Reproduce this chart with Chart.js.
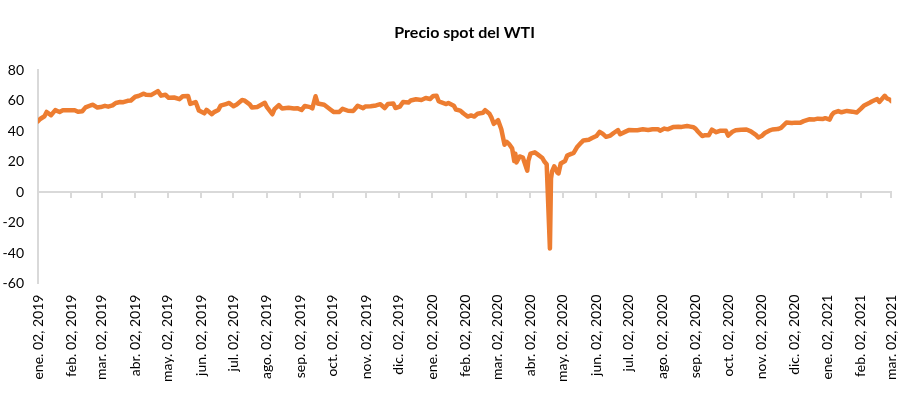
<!DOCTYPE html>
<html>
<head>
<meta charset="utf-8">
<script src="https://cdn.jsdelivr.net/npm/chart.js@4"></script>
<style>
  html, body { margin: 0; padding: 0; background: #ffffff; }
  #wrap { width: 919px; height: 395px; position: relative; }
</style>
</head>
<body>
<div id="wrap"><canvas id="c" width="919" height="395"></canvas></div>
<script>
// ---- Data (WTI spot price, USD/bbl) ----
const dates = [
  "2019-01-02","2019-01-04","2019-01-08","2019-01-10","2019-01-14","2019-01-18","2019-01-22","2019-01-25","2019-01-31",
  "2019-02-05","2019-02-08","2019-02-12","2019-02-15","2019-02-20","2019-02-22","2019-02-26","2019-03-01",
  "2019-03-05","2019-03-08","2019-03-12","2019-03-15","2019-03-19","2019-03-22","2019-03-26","2019-03-29",
  "2019-04-02","2019-04-05","2019-04-10","2019-04-12","2019-04-17","2019-04-23","2019-04-26","2019-04-30",
  "2019-05-03","2019-05-08","2019-05-13","2019-05-16","2019-05-21","2019-05-23","2019-05-28","2019-05-31",
  "2019-06-05","2019-06-07","2019-06-12","2019-06-14","2019-06-18","2019-06-20","2019-06-25","2019-06-28",
  "2019-07-02","2019-07-05","2019-07-10","2019-07-12","2019-07-17","2019-07-19","2019-07-24","2019-07-31",
  "2019-08-02","2019-08-07","2019-08-09","2019-08-13","2019-08-16","2019-08-22","2019-08-27","2019-08-30",
  "2019-09-03","2019-09-06","2019-09-11","2019-09-13","2019-09-16","2019-09-18","2019-09-24","2019-09-30",
  "2019-10-03","2019-10-08","2019-10-11","2019-10-16","2019-10-21","2019-10-25","2019-10-30",
  "2019-11-01","2019-11-06","2019-11-11","2019-11-15","2019-11-19","2019-11-22","2019-11-27","2019-11-29",
  "2019-12-03","2019-12-06","2019-12-11","2019-12-13","2019-12-18","2019-12-23","2019-12-27","2019-12-31",
  "2020-01-03","2020-01-06","2020-01-08","2020-01-10","2020-01-15","2020-01-17","2020-01-22","2020-01-24","2020-01-28","2020-01-31",
  "2020-02-04","2020-02-07","2020-02-10","2020-02-13","2020-02-18","2020-02-20","2020-02-24","2020-02-26","2020-02-28",
  "2020-03-03","2020-03-06","2020-03-09","2020-03-11","2020-03-13","2020-03-16","2020-03-18","2020-03-19","2020-03-20","2020-03-23","2020-03-26","2020-03-30","2020-03-31",
  "2020-04-02","2020-04-06","2020-04-08","2020-04-13","2020-04-15","2020-04-17","2020-04-20","2020-04-21","2020-04-22","2020-04-24","2020-04-27","2020-04-28","2020-04-30",
  "2020-05-04","2020-05-06","2020-05-08","2020-05-12","2020-05-15","2020-05-19","2020-05-21","2020-05-26","2020-05-29",
  "2020-06-02","2020-06-05","2020-06-08","2020-06-11","2020-06-15","2020-06-18","2020-06-22","2020-06-24","2020-06-29",
  "2020-07-02","2020-07-07","2020-07-10","2020-07-15","2020-07-20","2020-07-24","2020-07-29","2020-07-31",
  "2020-08-04","2020-08-07","2020-08-12","2020-08-17","2020-08-20","2020-08-25","2020-08-28","2020-08-31",
  "2020-09-02","2020-09-04","2020-09-08","2020-09-10","2020-09-14","2020-09-17","2020-09-21","2020-09-25","2020-09-30",
  "2020-10-02","2020-10-06","2020-10-09","2020-10-14","2020-10-19","2020-10-23","2020-10-28","2020-10-30",
  "2020-11-02","2020-11-05","2020-11-09","2020-11-12","2020-11-17","2020-11-20","2020-11-25","2020-11-30",
  "2020-12-03","2020-12-08","2020-12-11","2020-12-16","2020-12-21","2020-12-24","2020-12-29","2020-12-31",
  "2021-01-04","2021-01-06","2021-01-08","2021-01-12","2021-01-15","2021-01-20","2021-01-25","2021-01-29",
  "2021-02-02","2021-02-05","2021-02-10","2021-02-12","2021-02-17","2021-02-19","2021-02-24","2021-02-26","2021-03-01","2021-03-02"
];
const prices = [
  46.5,48.0,49.8,52.6,50.5,53.8,52.6,53.7,53.8,
  53.7,52.7,53.1,55.6,57.0,57.3,55.5,55.8,
  56.6,56.1,56.9,58.5,59.1,59.0,59.9,60.1,
  62.6,63.1,64.6,63.9,63.8,66.3,63.3,63.9,
  61.9,62.1,61.0,62.9,63.0,57.9,59.1,53.5,
  51.7,54.0,51.1,52.5,53.9,56.7,57.8,58.5,
  56.3,57.5,60.4,60.2,57.6,55.6,55.9,58.6,
  55.7,51.1,54.5,57.1,54.9,55.4,54.9,55.1,
  53.9,56.5,55.8,54.9,62.9,58.1,57.3,54.1,
  52.5,52.6,54.7,53.4,53.3,56.7,55.1,
  56.2,56.4,56.9,57.7,55.2,57.8,58.1,55.2,
  56.1,59.2,58.8,60.1,60.9,60.5,61.8,61.1,
  63.1,63.3,59.6,59.0,57.8,58.5,56.7,54.2,53.5,51.6,
  49.6,50.3,49.6,51.4,52.1,53.8,51.4,48.7,44.8,
  47.2,41.3,31.1,33.0,31.7,28.7,20.4,25.2,19.5,23.4,22.6,14.1,20.5,
  25.3,26.1,25.1,22.4,19.9,18.3,-37.0,8.9,13.6,16.9,12.8,12.3,18.8,
  20.4,24.0,24.6,25.8,29.4,32.5,33.9,34.4,35.5,
  36.8,39.6,38.2,36.3,37.1,38.8,40.7,38.0,39.7,
  40.7,40.6,40.6,41.2,40.8,41.3,41.3,40.3,
  41.7,41.2,42.7,42.9,42.8,43.4,43.0,42.6,
  41.5,39.8,36.8,37.3,37.3,41.0,39.3,40.3,40.2,
  37.1,39.6,40.6,41.0,41.1,39.9,37.4,35.8,
  36.8,38.8,40.3,41.1,41.4,42.2,45.7,45.3,
  45.6,45.6,46.6,47.8,47.7,48.2,48.0,48.5,
  47.6,50.6,52.2,53.2,52.4,53.3,52.8,52.2,
  54.8,56.9,58.7,59.5,61.1,59.2,63.2,61.5,60.6,59.8
];
const tickDates = [
  "2019-01-02","2019-02-02","2019-03-02","2019-04-02","2019-05-02","2019-06-02","2019-07-02","2019-08-02","2019-09-02",
  "2019-10-02","2019-11-02","2019-12-02","2020-01-02","2020-02-02","2020-03-02","2020-04-02","2020-05-02","2020-06-02",
  "2020-07-02","2020-08-02","2020-09-02","2020-10-02","2020-11-02","2020-12-02","2021-01-02","2021-02-02","2021-03-02"
];
const tickLabels = [
  "ene. 02, 2019","feb. 02, 2019","mar. 02, 2019","abr. 02, 2019","may. 02, 2019","jun. 02, 2019","jul. 02, 2019","ago. 02, 2019","sep. 02, 2019",
  "oct. 02, 2019","nov. 02, 2019","dic. 02, 2019","ene. 02, 2020","feb. 02, 2020","mar. 02, 2020","abr. 02, 2020","may. 02, 2020","jun. 02, 2020",
  "jul. 02, 2020","ago. 02, 2020","sep. 02, 2020","oct. 02, 2020","nov. 02, 2020","dic. 02, 2020","ene. 02, 2021","feb. 02, 2021","mar. 02, 2021"
];
const yTicks = [-60, -40, -20, 0, 20, 40, 60, 80];
const title = "Precio spot del WTI";

// ---- Build ----
const DAY = 86400000;
const base = Date.UTC(2019, 0, 2);
function dayOffset(s) {
  const p = s.split("-").map(Number);
  return Math.round((Date.UTC(p[0], p[1] - 1, p[2]) - base) / DAY);
}
const points = dates.map((d, i) => ({ x: dayOffset(d), y: prices[i] }));
const tickDays = tickDates.map(dayOffset);
const labelByDay = {};
tickDays.forEach((d, i) => { labelByDay[d] = tickLabels[i]; });
const xMin = tickDays[0], xMax = tickDays[tickDays.length - 1];

const FONT = "Lato, 'Open Sans', sans-serif";
const GRAY = "#d9d9d9";

new Chart(document.getElementById("c"), {
  type: "line",
  data: {
    datasets: [{
      data: points,
      xAxisID: "x",
      yAxisID: "y",
      borderColor: "#ED7D31",
      backgroundColor: "#ED7D31",
      borderWidth: 4.5,
      pointRadius: 0,
      tension: 0,
      borderJoinStyle: "round",
      borderCapStyle: "round",
      fill: false
    }]
  },
  options: {
    responsive: false,
    animation: false,
    events: [],
    layout: { padding: { left: 0, right: 26, top: 0, bottom: 2 } },
    plugins: {
      legend: { display: false },
      tooltip: { enabled: false },
      title: {
        display: true,
        fullSize: false,
        text: title,
        color: "#000000",
        font: { family: FONT, size: 16, weight: "bold" },
        padding: { top: 23, bottom: 28 }
      }
    },
    scales: {
      x: {
        type: "linear",
        position: "bottom",
        min: xMin,
        max: xMax,
        afterBuildTicks: (s) => { s.ticks = tickDays.map(v => ({ value: v })); },
        grid: { display: false, drawTicks: false },
        border: { display: false },
        ticks: {
          autoSkip: false,
          minRotation: 90,
          maxRotation: 90,
          padding: 11,
          color: "#000000",
          font: { family: FONT, size: 14 },
          callback: (v) => labelByDay[v] || ""
        }
      },
      x0: {
        type: "linear",
        position: { y: 0 },
        min: xMin,
        max: xMax,
        afterBuildTicks: (s) => { s.ticks = tickDays.map(v => ({ value: v })); },
        grid: { display: true, drawOnChartArea: false, drawTicks: true, tickLength: 5, tickColor: GRAY, tickWidth: 2, color: GRAY, lineWidth: 2 },
        border: { display: true, color: GRAY, width: 2 },
        ticks: { display: false, autoSkip: false }
      },
      y: {
        type: "linear",
        position: "left",
        min: -60,
        max: 80,
        afterBuildTicks: (s) => { s.ticks = yTicks.map(v => ({ value: v })); },
        afterFit: (s) => { s.width = 38; },
        grid: { display: false, drawTicks: false },
        border: { display: true, color: GRAY, width: 2 },
        ticks: {
          padding: 14,
          color: "#000000",
          font: { family: FONT, size: 14 }
        }
      }
    }
  }
});
</script>
</body>
</html>
